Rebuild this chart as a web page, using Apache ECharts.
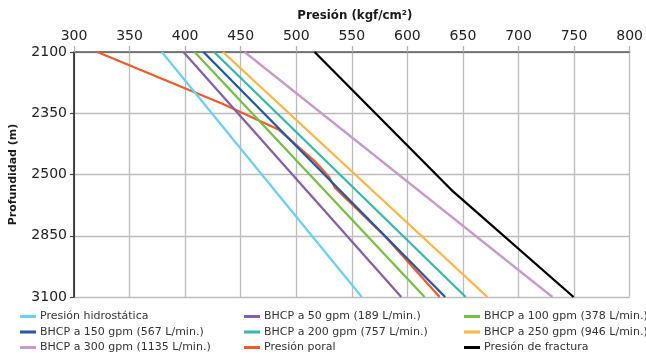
<!DOCTYPE html>
<html>
<head>
<meta charset="utf-8">
<script src="https://cdn.jsdelivr.net/npm/echarts@6/dist/echarts.min.js"></script>
<style>
  html, body { margin: 0; padding: 0; background: #fff; }
  #chart { width: 646px; height: 356px; }
</style>
</head>
<body>
<div id="chart"></div>
<script>
// Depth labels are evenly spaced along the vertical axis; positions are given in label steps (0 = 2100 m, 4 = 3100 m).
const depthLabels = ['2100', '2350', '2500', '2850', '3100'];

// Pressure axis (kgf/cm²)
const pressureMin = 300;
const pressureMax = 800;
const pressureStep = 50;

// Each series: [pressure, depth position]
const hidrostatica = [[379, 0], [559, 4]];
const bhcp50 = [[398.5, 0], [594.5, 4]];
const bhcp100 = [[408.5, 0], [615.5, 4]];
const bhcp150 = [[416.5, 0], [634, 4]];
const bhcp200 = [[426, 0], [652.5, 4]];
const bhcp250 = [[434, 0], [672, 4]];
const bhcp300 = [[453.5, 0], [730.5, 4]];
const poral = [[321, 0], [434, 0.85], [484.5, 1.27], [517, 1.79], [529.5, 2.04], [535, 2.22], [580.5, 3.02], [629, 4]];
const fractura = [[516.5, 0], [639.5, 2.25], [749.5, 4]];

const names = {
  hid: 'Presión hidrostática',
  b50: 'BHCP a 50 gpm (189 L/min.)',
  b100: 'BHCP a 100 gpm (378 L/min.)',
  b150: 'BHCP a 150 gpm (567 L/min.)',
  b200: 'BHCP a 200 gpm (757 L/min.)',
  b250: 'BHCP a 250 gpm (946 L/min.)',
  b300: 'BHCP a 300 gpm (1135 L/min.)',
  por: 'Presión poral',
  fra: 'Presión de fractura'
};

const colors = {
  hid: '#6dcff6',
  b50: '#8560a8',
  b100: '#76bf44',
  b150: '#2457a6',
  b200: '#38b8a8',
  b250: '#fbb545',
  b300: '#c69bca',
  por: '#f15a29',
  fra: '#000000'
};

const FONT = 'DejaVu Sans';

function line(key, data, z) {
  return {
    name: names[key],
    type: 'line',
    data: data,
    showSymbol: false,
    symbol: 'none',
    z: z,
    lineStyle: { color: colors[key], width: 2.3 },
    itemStyle: { color: colors[key] },
    animation: false
  };
}

function legendColumn(left, keys) {
  return {
    orient: 'vertical',
    left: left,
    top: 310,
    itemWidth: 16,
    itemHeight: 3,
    itemGap: 2.5,
    icon: 'rect',
    padding: 0,
    selectedMode: false,
    data: keys.map(k => names[k]),
    textStyle: { fontFamily: FONT, fontSize: 11, color: '#333', lineHeight: 13, padding: [0, 0, 0, -1] }
  };
}

const chart = echarts.init(document.getElementById('chart'), null, { renderer: 'canvas' });

chart.setOption({
  backgroundColor: '#ffffff',
  animation: false,
  grid: { left: 70, right: 16, top: 52, bottom: 59, containLabel: false },
  xAxis: {
    type: 'value',
    position: 'top',
    min: pressureMin,
    max: pressureMax,
    interval: pressureStep,
    name: 'Presión (kgf/cm²)',
    nameLocation: 'middle',
    nameGap: 30,
    nameTextStyle: { fontFamily: FONT, fontSize: 11.8, fontWeight: 'bold', color: '#1a1a1a', padding: [0, 0, 0, 6] },
    axisLine: { show: true, lineStyle: { color: '#5a5a5a', width: 1.6 } },
    axisTick: { show: true, length: 6, lineStyle: { color: '#b4b4b4', width: 1.3 } },
    axisLabel: { fontFamily: FONT, fontSize: 14, color: '#222', margin: 9 },
    splitLine: { show: true, lineStyle: { color: '#bcbcbc', width: 1.3 } }
  },
  yAxis: {
    type: 'value',
    inverse: true,
    min: 0,
    max: depthLabels.length - 1,
    interval: 1,
    name: 'Profundidad (m)',
    nameLocation: 'middle',
    nameGap: 55,
    nameTextStyle: { fontFamily: FONT, fontSize: 11, fontWeight: 'bold', color: '#1a1a1a' },
    axisLine: { show: true, lineStyle: { color: '#111', width: 1.5 } },
    axisTick: { show: true, length: 4, lineStyle: { color: '#444', width: 1.2 } },
    axisLabel: {
      fontFamily: FONT, fontSize: 14, color: '#222', margin: 7,
      formatter: v => depthLabels[Math.round(v)] || ''
    },
    splitLine: { show: true, lineStyle: { color: '#bcbcbc', width: 1.3 } }
  },
  legend: [
    legendColumn(20, ['hid', 'b150', 'b300']),
    legendColumn(244, ['b50', 'b200', 'por']),
    legendColumn(464, ['b100', 'b250', 'fra'])
  ],
  series: [
    line('por', poral, 2),
    line('hid', hidrostatica, 3),
    line('b50', bhcp50, 3),
    line('b100', bhcp100, 3),
    line('b150', bhcp150, 3),
    line('b200', bhcp200, 3),
    line('b250', bhcp250, 3),
    line('b300', bhcp300, 3),
    line('fra', fractura, 3)
  ]
});
</script>
</body>
</html>
